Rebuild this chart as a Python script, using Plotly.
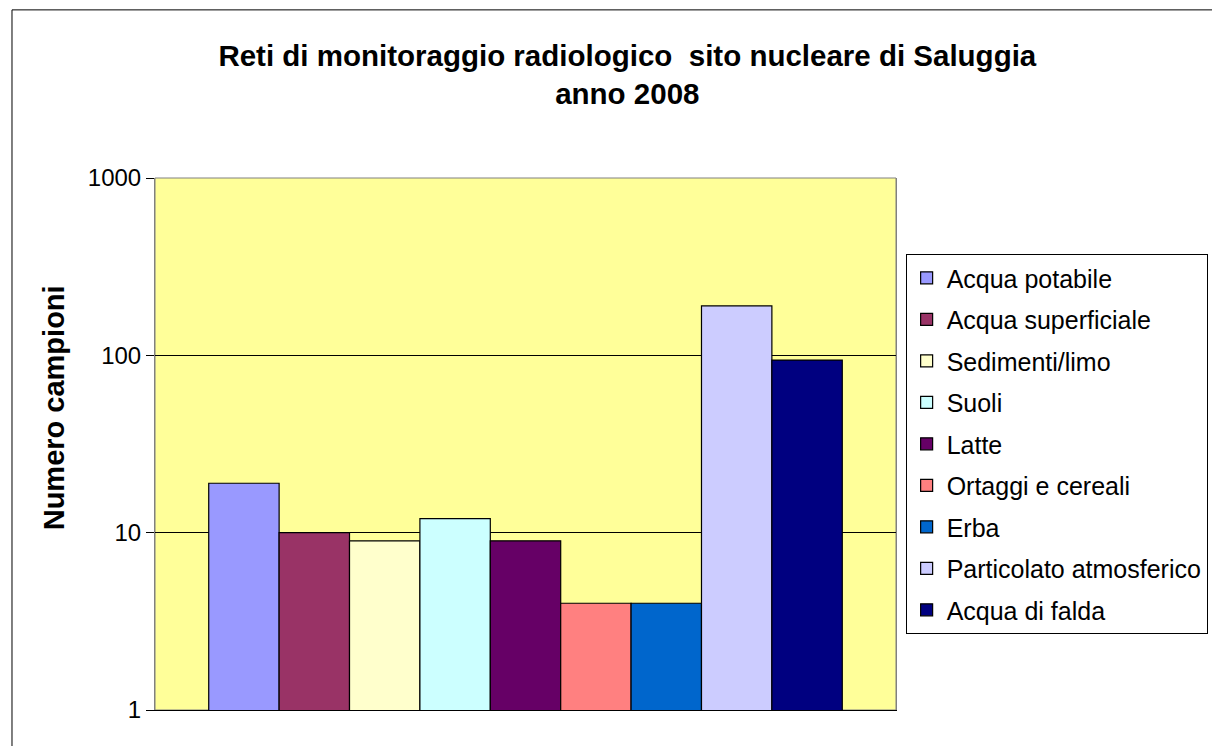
import plotly.graph_objects as go

# data (number of samples, log scale)
categories = [
    "Acqua potabile",
    "Acqua superficiale",
    "Sedimenti/limo",
    "Suoli",
    "Latte",
    "Ortaggi e cereali",
    "Erba",
    "Particolato atmosferico",
    "Acqua di falda",
]
samples = [19, 10, 9, 12, 9, 4, 4, 190, 94]
colors = ["#9999FF", "#993366", "#FFFFCC", "#CCFFFF", "#660066",
          "#FF8080", "#0066CC", "#CCCCFF", "#000080"]
y_ticks = [1, 10, 100, 1000]

FONT = "Arial, Liberation Sans, sans-serif"

fig = go.Figure()
for i, (name, val, col) in enumerate(zip(categories, samples, colors)):
    fig.add_trace(go.Bar(
        x=[""], y=[val], name=name, legendgroup=f"g{i}",
        marker=dict(color=col, line=dict(color="black", width=1.2)),
    ))

# page body has an 8px margin, so the figure is a bit smaller than the window
fig.update_layout(
    width=1212, height=738,
    barmode="group", bargap=0.145, bargroupgap=0,
    paper_bgcolor="white", plot_bgcolor="#FFFF99",
    font=dict(family=FONT, color="black", size=24),
    margin=dict(l=147, r=314, t=170, b=36),
    title=dict(
        text="<b>Reti di monitoraggio radiologico  sito nucleare di Saluggia<br>anno 2008</b>",
        x=0.511, xanchor="center", y=0.922, yanchor="top",
        font=dict(family=FONT, size=29.5),
    ),
    legend=dict(
        x=1.013, xanchor="left", y=0.857, yanchor="top",
        bordercolor="black", borderwidth=1, bgcolor="white",
        font=dict(family=FONT, size=25), tracegroupgap=6,
    ),
    showlegend=True,
)

fig.update_xaxes(showticklabels=False, showline=True, linecolor="black",
                 linewidth=1, mirror=False, ticks="")
fig.update_yaxes(
    type="log", range=[0, 3], tickvals=y_ticks, ticktext=[str(v) for v in y_ticks],
    showgrid=True, gridcolor="black", gridwidth=1,
    showline=True, linecolor="#808080", linewidth=1, mirror=True,
    ticks="outside", ticklen=8, tickcolor="black",
    tickfont=dict(family=FONT, size=24),
)

# y-axis title sits above the plot centre in the reference, so place it by hand
fig.add_annotation(
    text="<b>Numero campioni</b>", textangle=-90,
    xref="paper", yref="paper", x=-0.137, y=0.568,
    xanchor="center", yanchor="middle", showarrow=False,
    font=dict(family=FONT, size=29),
)

# grey plot-area frame
fig.add_shape(type="rect", xref="paper", yref="paper", x0=0, x1=1, y0=0, y1=1,
              line=dict(color="#808080", width=1), fillcolor="rgba(0,0,0,0)", layer="below")

# outer chart border (top and left edges visible in the reference)
fig.add_shape(type="rect", xref="paper", yref="paper",
              x0=-0.193, x1=1.45, y0=-0.2, y1=1.316,
              line=dict(color="black", width=1), fillcolor="rgba(0,0,0,0)", layer="below")

fig.write_html("out.html")
